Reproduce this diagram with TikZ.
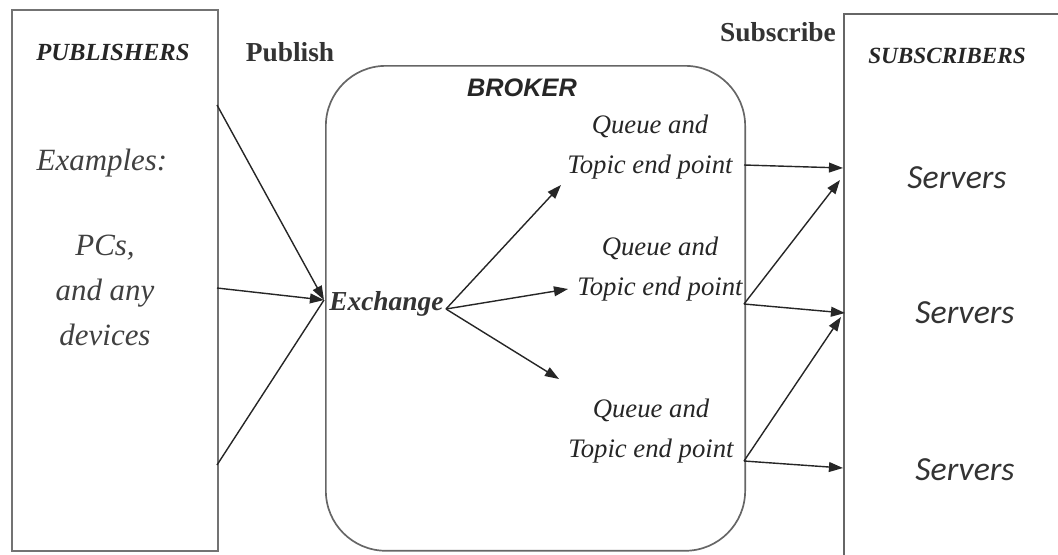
\documentclass[tikz,border=0pt]{standalone}
\usepackage{fontspec}
\setmainfont{Liberation Serif}
\setsansfont{Liberation Sans}
\newfontfamily\calfont{Carlito}
\usetikzlibrary{arrows.meta,positioning}

\begin{document}
\begin{tikzpicture}[
        x=0.025cm, y=-0.025cm,
        box/.style={draw=black!55, line width=1.6pt},
        heading/.style={font=\bfseries\itshape\fontsize{17.5}{20}\selectfont, text=black!85},
        label/.style={font=\bfseries\fontsize{19.5}{22}\selectfont, text=black!80},
        pubtext/.style={align=center, font=\itshape\fontsize{22}{32}\selectfont, text=black!75},
        queue/.style={align=center, inner sep=0pt, font=\itshape\fontsize{19}{29}\selectfont, text=black!85},
        server/.style={font=\calfont\itshape\fontsize{24}{28}\selectfont, text=black!80},
        arrow/.style={-{Triangle[length=10pt,width=7pt]}, line width=1pt, black!85},
        line/.style={line width=1pt, black!85}
    ]
        \useasboundingbox (0,0) rectangle (1058,554);
        \clip (0,0) rectangle (1058,554);

        % Boxes
        \node[box, anchor=north west, minimum width=5.15cm, minimum height=13.52cm] (pub) at (11,9) {};
        \node[box, draw=black!60, line width=1.2pt, rounded corners=1.5cm, anchor=north west,
              minimum width=10.48cm, minimum height=12.12cm] (broker) at (325,65) {};
        \node[box, draw=black!60, line width=1.2pt, anchor=north west, minimum width=6.5cm,
              minimum height=14.8cm] (sub) at (843,13) {};

        % Labels
        \node[heading] (pubtitle) at (113,52) {PUBLISHERS};
        \node[label] (publish) at (290,52) {Publish};
        \node[label] (subscribe) at (778,32) {Subscribe};
        \node[heading, font=\bfseries\itshape\fontsize{16.5}{20}\selectfont] (subtitle) at (947,56) {SUBSCRIBERS};
        \node[font=\sffamily\bfseries\itshape\fontsize{18}{20}\selectfont, text=black!85] (brokertitle) at (522,88) {BROKER};

        % Publishers
        \node[pubtext] (examples) at (102,163) {Examples:};
        \node[pubtext] (devices) at (105,290) {PCs,\\and any\\devices};

        % Broker
        \node[queue, font=\bfseries\itshape\fontsize{19.5}{24}\selectfont, text=black!80, anchor=base west] (exch) at (329,310) {Exchange};
        \node[queue] (q1) at (650,147) {Queue and\\Topic end point};
        \node[queue] (q2) at (660,269) {Queue and\\Topic end point};
        \node[queue] (q3) at (651,431) {Queue and\\Topic end point};

        % Subscribers
        \node[server] (s1) at (957,178) {Servers};
        \node[server] (s2) at (965,313) {Servers};
        \node[server] (s3) at (965,470) {Servers};

        % Connection points
        \coordinate (hub) at (324,300);
        \coordinate (xo) at (446,309);
        \coordinate (p1) at (217,105);
        \coordinate (p2) at (217,288);
        \coordinate (p3) at (217,465);
        \coordinate (t1) at (561,185);
        \coordinate (t2) at (568,289);
        \coordinate (t3) at (559,379);
        \coordinate (e1) at (744,165);
        \coordinate (e2) at (744,304);
        \coordinate (e3) at (744,461);
        \coordinate (i1) at (843,168);
        \coordinate (i1b) at (840,180);
        \coordinate (i2) at (845,313);
        \coordinate (i2b) at (841,317);
        \coordinate (i3) at (843,468);

        % Connections
        \draw[arrow] (p1) -- (hub);
        \draw[arrow] (p2) -- (hub);
        \draw[line] (p3) -- (hub);
        \draw[arrow] (xo) -- (t1);
        \draw[arrow] (xo) -- (t2);
        \draw[arrow] (xo) -- (t3);
        \draw[arrow] (e1) -- (i1);
        \draw[arrow] (e2) -- (i1b);
        \draw[arrow] (e2) -- (i2);
        \draw[arrow] (e3) -- (i2b);
        \draw[arrow] (e3) -- (i3);

    \end{tikzpicture}
\end{document}
